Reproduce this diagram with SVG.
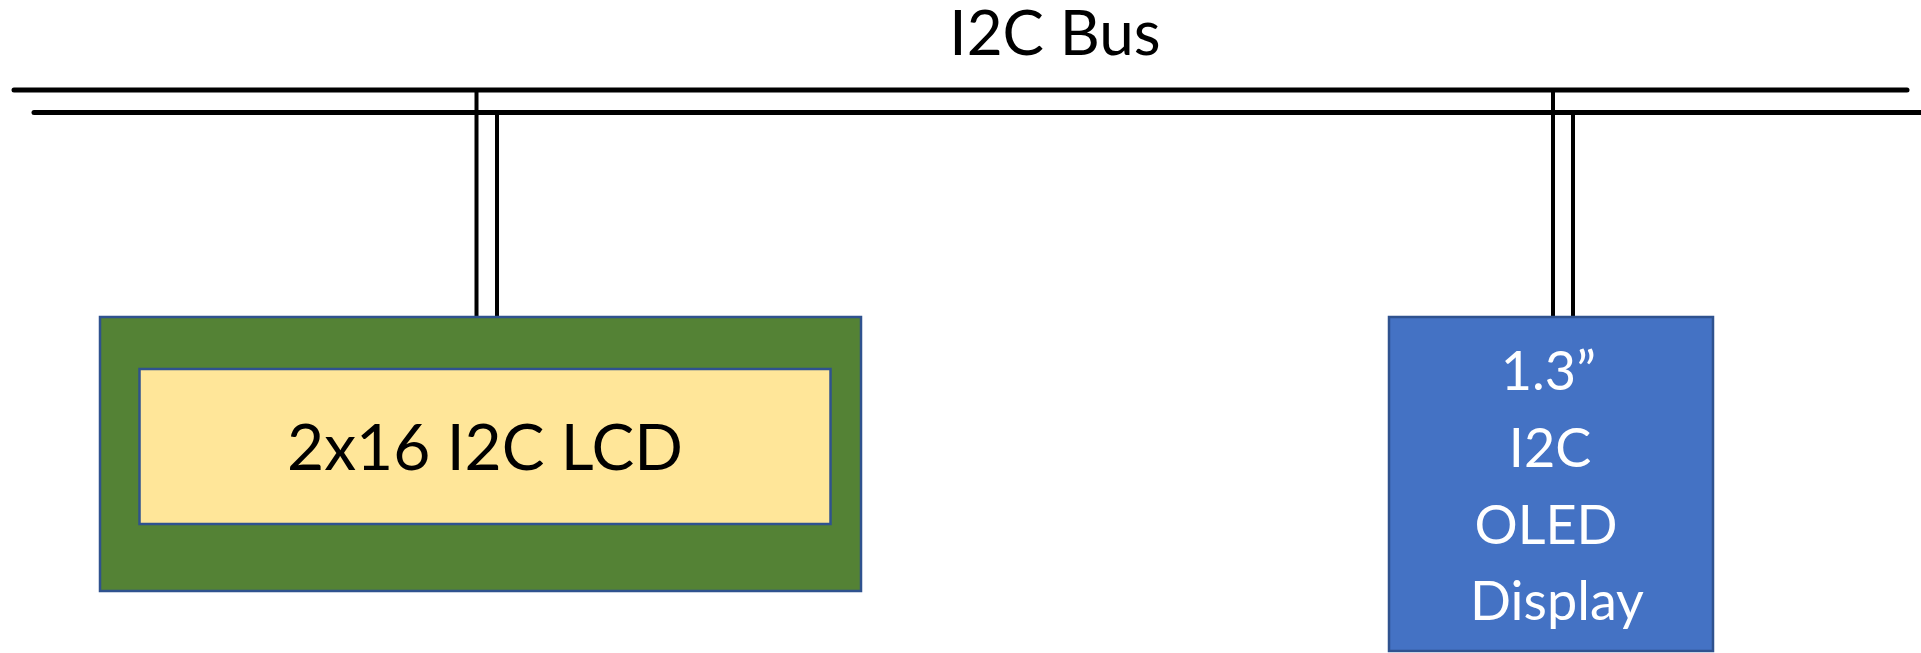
<svg xmlns="http://www.w3.org/2000/svg" width="1921" height="653" viewBox="0 0 1921 653">
<style>
.bus{stroke:#000;stroke-width:5;stroke-linecap:round;fill:none}
.tap{stroke:#000;stroke-width:4;fill:none}
.box{stroke:#2F528F;stroke-width:2.5}
.lbl{font-family:Lato,"Liberation Sans",sans-serif;text-anchor:middle}
</style>
<rect width="1921" height="653" fill="#fff"/>
<g id="connectors">
<line class="bus" x1="14" y1="90" x2="1907" y2="90"/>
<line class="bus" x1="34" y1="112.5" x2="1930" y2="112.5"/>
<line class="tap" x1="476.5" y1="90" x2="476.5" y2="316"/>
<line class="tap" x1="497" y1="112.5" x2="497" y2="316"/>
<line class="tap" x1="1553" y1="90" x2="1553" y2="316"/>
<line class="tap" x1="1573" y1="112.5" x2="1573" y2="316"/>
</g>
<g id="bus-label">
<text class="lbl" x="1055" y="55" font-size="62" fill="#000">I2C Bus</text>
</g>
<g id="lcd">
<rect class="box" x="100" y="317" width="761" height="274" fill="#548235"/>
<rect class="box" x="139.5" y="369" width="691" height="155" fill="#FFE699"/>
<text class="lbl" x="485" y="470" font-size="64" fill="#000">2x16 I2C LCD</text>
</g>
<g id="oled">
<rect class="box" x="1389" y="317" width="324" height="334" fill="#4472C4"/>
<text class="lbl" font-size="54" fill="#fff">
<tspan x="1555" y="390">1.3”</tspan>
<tspan x="1557" y="467">I2C</tspan>
<tspan x="1553" y="544">OLED</tspan>
<tspan x="1557" y="620">Display</tspan>
</text>
</g>
</svg>
